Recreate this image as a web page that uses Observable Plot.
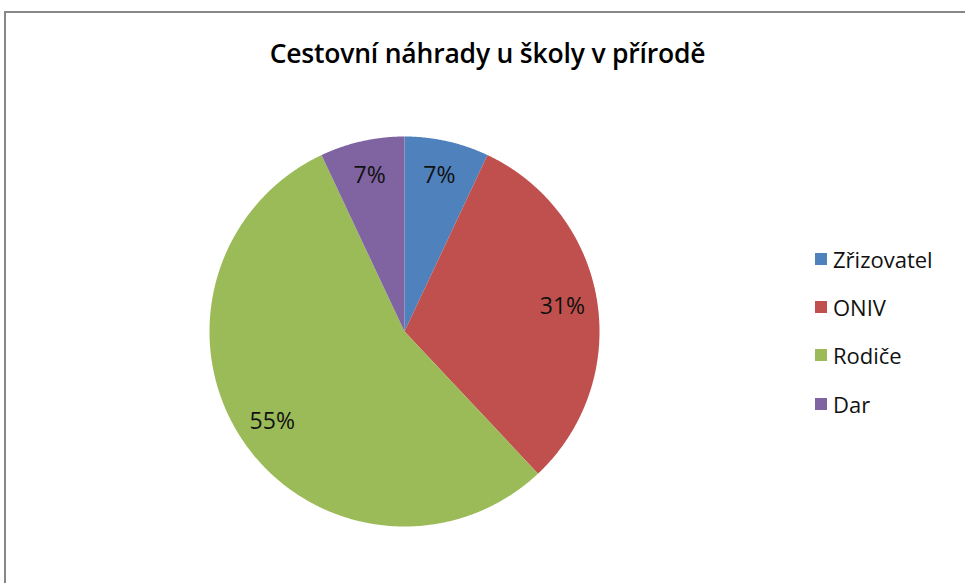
<!DOCTYPE html>
<html>
<head>
<meta charset="utf-8">
<script src="https://cdn.jsdelivr.net/npm/d3@7"></script>
<script src="https://cdn.jsdelivr.net/npm/@observablehq/plot@0.6"></script>
<style>
  html, body { margin: 0; padding: 0; background: #fff; }
  #wrap { position: relative; width: 965px; height: 583px; overflow: hidden; font-family: "Open Sans", "Noto Sans", sans-serif; }
  #frame { position: absolute; left: 4px; top: 11px; width: 1000px; height: 700px; border-left: 2px solid #878787; border-top: 2px solid #878787; }
  #title { position: absolute; left: 0; width: 975px; top: 35px; text-align: center; font-size: 26.5px; font-weight: 600; color: #000; letter-spacing: -0.2px; }
  #chart { position: absolute; left: 0; top: 0; }
  #legend { position: absolute; left: 815px; top: 235px; font-size: 22px; color: #111; }
  .item { display: flex; align-items: center; height: 48.2px; }
  .sw { width: 12px; height: 12px; margin-right: 6px; }
</style>
</head>
<body>
<div id="wrap">
  <div id="chart"></div>
  <div id="frame"></div>
  <div id="title">Cestovní náhrady u školy v přírodě</div>
  <div id="legend"></div>
</div>
<script>
const categories = ["Zřizovatel", "ONIV", "Rodiče", "Dar"];
const values = [7, 31, 55, 7];
const labels = ["7%", "31%", "55%", "7%"];
const colors = ["#4F81BD", "#C0504D", "#9BBB59", "#8064A2"];

const arcs = d3.pie().sort(null)(values);
const slicePoints = [];
arcs.forEach((a, i) => {
  slicePoints.push({cat: categories[i], x: 0, y: 0});
  const n = Math.max(2, Math.ceil((a.endAngle - a.startAngle) / 0.005));
  for (let k = 0; k <= n; k++) {
    const t = a.startAngle + (a.endAngle - a.startAngle) * k / n;
    slicePoints.push({cat: categories[i], x: Math.sin(t), y: Math.cos(t)});
  }
});
const labelR = 0.82;
const labelData = arcs.map((a, i) => {
  const m = (a.startAngle + a.endAngle) / 2;
  return {text: labels[i], x: labelR * Math.sin(m), y: labelR * Math.cos(m)};
});

const plot = Plot.plot({
  width: 965,
  height: 583,
  marginLeft: 209,
  marginRight: 366,
  marginTop: 136,
  marginBottom: 57,
  x: {domain: [-1, 1], axis: null},
  y: {domain: [-1, 1], axis: null},
  color: {domain: categories, range: colors},
  style: {fontFamily: "'Open Sans', 'Noto Sans', sans-serif", background: "transparent"},
  marks: [
    Plot.line(slicePoints, {x: "x", y: "y", z: "cat", fill: "cat", stroke: "none", curve: "linear-closed"}),
    Plot.text(labelData, {x: "x", y: "y", text: "text", fontSize: 23, fill: "#111"})
  ]
});
document.getElementById("chart").appendChild(plot);

const legend = document.getElementById("legend");
categories.forEach((c, i) => {
  const d = document.createElement("div");
  d.className = "item";
  d.innerHTML = `<div class="sw" style="background:${colors[i]}"></div><span>${c}</span>`;
  legend.appendChild(d);
});
</script>
</body>
</html>
